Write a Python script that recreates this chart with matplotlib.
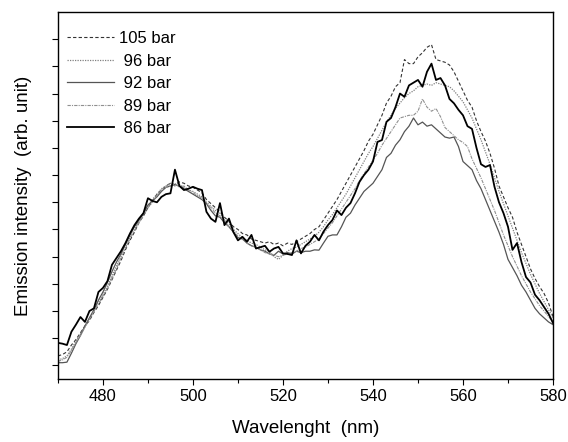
import numpy as np
import matplotlib.pyplot as plt

plt.rcParams['font.family'] = ['Liberation Sans', 'DejaVu Sans']

# wavelength grid, 1 nm steps
wavelength = list(range(470, 581))

# intensities (arb. units)
bar_105 = [0.85, 0.9, 1.0, 1.25, 1.45, 1.7, 1.95, 2.15, 2.45, 2.7,
           3.0, 3.3, 3.65, 4.0, 4.35, 4.75, 5.1, 5.4, 5.75, 6.0,
           6.3, 6.55, 6.8, 6.95, 7.1, 7.2, 7.15, 7.25, 7.2, 7.1,
           7.05, 6.95, 6.85, 6.6, 6.45, 6.3, 6.15, 5.95, 5.8, 5.6,
           5.5, 5.35, 5.3, 5.15, 5.1, 5.05, 5.0, 5.05, 4.95, 5.0,
           4.9, 5.0, 4.95, 5.05, 5.15, 5.25, 5.35, 5.5, 5.6, 5.85,
           6.1, 6.35, 6.6, 6.9, 7.2, 7.5, 7.8, 8.1, 8.4, 8.75,
           9.0, 9.35, 9.7, 10.15, 10.4, 10.75, 10.9, 11.75, 11.6, 11.6,
           11.85, 12.0, 12.2, 12.3, 11.75, 11.7, 11.65, 11.55, 11.3, 10.95,
           10.6, 10.25, 10.0, 9.5, 9.1, 8.75, 8.3, 7.75, 7.1, 6.7,
           6.3, 5.95, 5.4, 4.95, 4.5, 4.05, 3.7, 3.4, 3.15, 2.8,
           2.3]

bar_96 = [0.7, 0.75, 0.85, 1.1, 1.4, 1.65, 1.95, 2.2, 2.5, 2.8,
          3.1, 3.4, 3.8, 4.15, 4.5, 4.85, 5.2, 5.5, 5.8, 6.05,
          6.35, 6.6, 6.8, 7.0, 7.1, 7.2, 7.1, 7.15, 7.05, 6.95,
          6.9, 6.8, 6.7, 6.5, 6.35, 6.2, 6.1, 5.85, 5.7, 5.5,
          5.35, 5.2, 5.1, 5.0, 4.95, 4.85, 4.75, 4.7, 4.5, 4.4,
          4.55, 4.7, 4.8, 4.85, 4.95, 5.05, 5.15, 5.25, 5.4, 5.6,
          5.85, 6.05, 6.3, 6.55, 6.8, 7.1, 7.4, 7.7, 8.0, 8.3,
          8.55, 8.85, 9.15, 9.45, 9.7, 9.95, 10.15, 10.35, 10.5, 10.6,
          10.75, 10.8, 10.85, 10.8, 10.9, 10.85, 10.8, 10.75, 10.6, 10.4,
          10.2, 9.9, 9.6, 9.2, 8.8, 8.35, 7.9, 7.4, 6.9, 6.45,
          6.0, 5.55, 5.1, 4.65, 4.25, 3.85, 3.5, 3.15, 2.85, 2.55,
          2.25]

bar_92 = [0.6, 0.6, 0.62, 0.95, 1.3, 1.6, 1.95, 2.25, 2.55, 2.9,
          3.2, 3.55, 3.95, 4.3, 4.6, 4.95, 5.3, 5.6, 5.85, 6.1,
          6.4, 6.55, 6.7, 6.9, 7.05, 7.1, 7.15, 7.1, 7.0, 6.9,
          6.8, 6.7, 6.6, 6.45, 6.2, 6.0, 5.95, 5.75, 5.6, 5.4,
          5.2, 5.15, 5.0, 4.9, 4.85, 4.75, 4.7, 4.6, 4.55, 4.7,
          4.6, 4.65, 4.6, 4.7, 4.65, 4.7, 4.7, 4.75, 4.74, 5.0,
          5.25, 5.3, 5.3, 5.6, 5.95, 6.1, 6.4, 6.65, 6.9, 7.05,
          7.2, 7.45, 7.7, 8.15, 8.3, 8.6, 8.8, 9.1, 9.3, 9.6,
          9.35, 9.45, 9.3, 9.35, 9.2, 9.05, 8.9, 8.86, 8.9, 8.55,
          8.0, 7.85, 7.7, 7.3, 7.0, 6.6, 6.2, 5.8, 5.4, 4.95,
          4.4, 4.1, 3.8, 3.45, 3.2, 2.9, 2.6, 2.4, 2.25, 2.1,
          2.0]

bar_89 = [0.65, 0.7, 0.8, 1.05, 1.35, 1.6, 1.9, 2.2, 2.5, 2.75,
          3.05, 3.35, 3.7, 4.05, 4.45, 4.8, 5.15, 5.45, 5.75, 6.0,
          6.3, 6.5, 6.75, 6.95, 7.05, 7.1, 7.2, 7.05, 7.1, 6.95,
          6.85, 6.75, 6.65, 6.45, 6.3, 6.1, 6.0, 5.8, 5.6, 5.45,
          5.25, 5.15, 5.0, 4.9, 4.85, 4.75, 4.65, 4.6, 4.55, 4.5,
          4.55, 4.6, 4.65, 4.7, 4.8, 4.85, 4.95, 5.05, 5.15, 5.35,
          5.55, 5.75, 6.0, 6.25, 6.5, 6.75, 7.0, 7.3, 7.55, 7.8,
          8.05, 8.3, 8.6, 8.85, 9.1, 9.35, 9.6, 9.65, 9.7, 9.7,
          9.85, 10.3, 10.0, 9.85, 9.95, 9.65, 9.25, 9.1, 8.95, 8.8,
          8.7, 8.55, 8.1, 7.75, 7.4, 7.0, 6.6, 6.2, 5.75, 5.3,
          4.9, 4.5, 4.15, 3.8, 3.5, 3.2, 2.95, 2.7, 2.5, 2.3,
          2.1]

bar_86 = [1.33, 1.3, 1.25, 1.74, 2.0, 2.28, 2.1, 2.5, 2.6, 3.2,
          3.35, 3.6, 4.2, 4.45, 4.7, 5.0, 5.35, 5.66, 5.9, 6.1,
          6.65, 6.55, 6.5, 6.7, 6.8, 6.83, 7.7, 7.1, 6.95, 7.0,
          7.07, 7.0, 6.95, 6.15, 5.9, 5.78, 6.47, 5.66, 5.9, 5.4,
          5.1, 5.23, 5.05, 5.3, 4.8, 4.85, 4.9, 4.68, 4.8, 4.86,
          4.62, 4.6, 4.56, 5.1, 4.62, 4.9, 5.05, 5.3, 5.1, 5.42,
          5.66, 5.85, 6.2, 6.03, 6.3, 6.47, 6.83, 7.25, 7.5, 7.7,
          8.0, 8.72, 8.79, 9.46, 9.6, 10.0, 10.5, 10.38, 10.8, 10.9,
          11.0, 10.75, 11.3, 11.6, 11.0, 11.07, 10.8, 10.3, 10.14, 9.9,
          9.7, 9.3, 9.2, 8.5, 7.9, 7.8, 7.87, 7.07, 6.5, 6.1,
          5.6, 4.75, 5.0, 4.3, 3.75, 3.55, 3.1, 2.9, 2.65, 2.4,
          2.06]

fig = plt.figure(figsize=(5.68, 4.42), dpi=100)
ax = fig.add_axes([0.102, 0.1425, 0.8716, 0.8304])

ax.plot(wavelength, bar_105, color='#333333', lw=0.8, ls=(0, (3, 2)), label='105 bar')
ax.plot(wavelength, bar_96, color='#808080', lw=0.9, ls=(0, (1, 1)), label=' 96 bar')
ax.plot(wavelength, bar_92, color='#555555', lw=0.9, ls='-', label=' 92 bar')
ax.plot(wavelength, bar_89, color='#909090', lw=0.8, ls=(0, (3, 1, 1, 1)), label=' 89 bar')
ax.plot(wavelength, bar_86, color='black', lw=1.3, ls='-', label=' 86 bar')

ax.set_xlim(470, 580)
ax.set_ylim(0, 13.5)
ax.set_xticks(np.arange(480, 581, 20))
ax.set_xticks(np.arange(470, 581, 20), minor=True)
ax.set_yticks(np.arange(0.5, 13, 1))
ax.set_yticklabels([])
ax.tick_params(axis='x', which='major', direction='out', length=4, width=0.8,
               labelsize=12, top=False)
ax.tick_params(axis='x', which='minor', direction='out', length=3, width=0.8, top=False)
ax.tick_params(axis='y', direction='out', length=4, width=0.8, right=False)
for s in ax.spines.values():
    s.set_linewidth(1.0)

ax.set_xlabel('Wavelenght  (nm)', fontsize=13.5, labelpad=11)
ax.set_ylabel('Emission intensity  (arb. unit)', fontsize=13.5, labelpad=11)

ax.legend(loc='upper left', bbox_to_anchor=(0.018, 0.948), frameon=False,
          fontsize=12, handlelength=2.8, handletextpad=0.3,
          labelspacing=0.45, borderpad=0, borderaxespad=0)

plt.savefig('out.png', dpi=100)
